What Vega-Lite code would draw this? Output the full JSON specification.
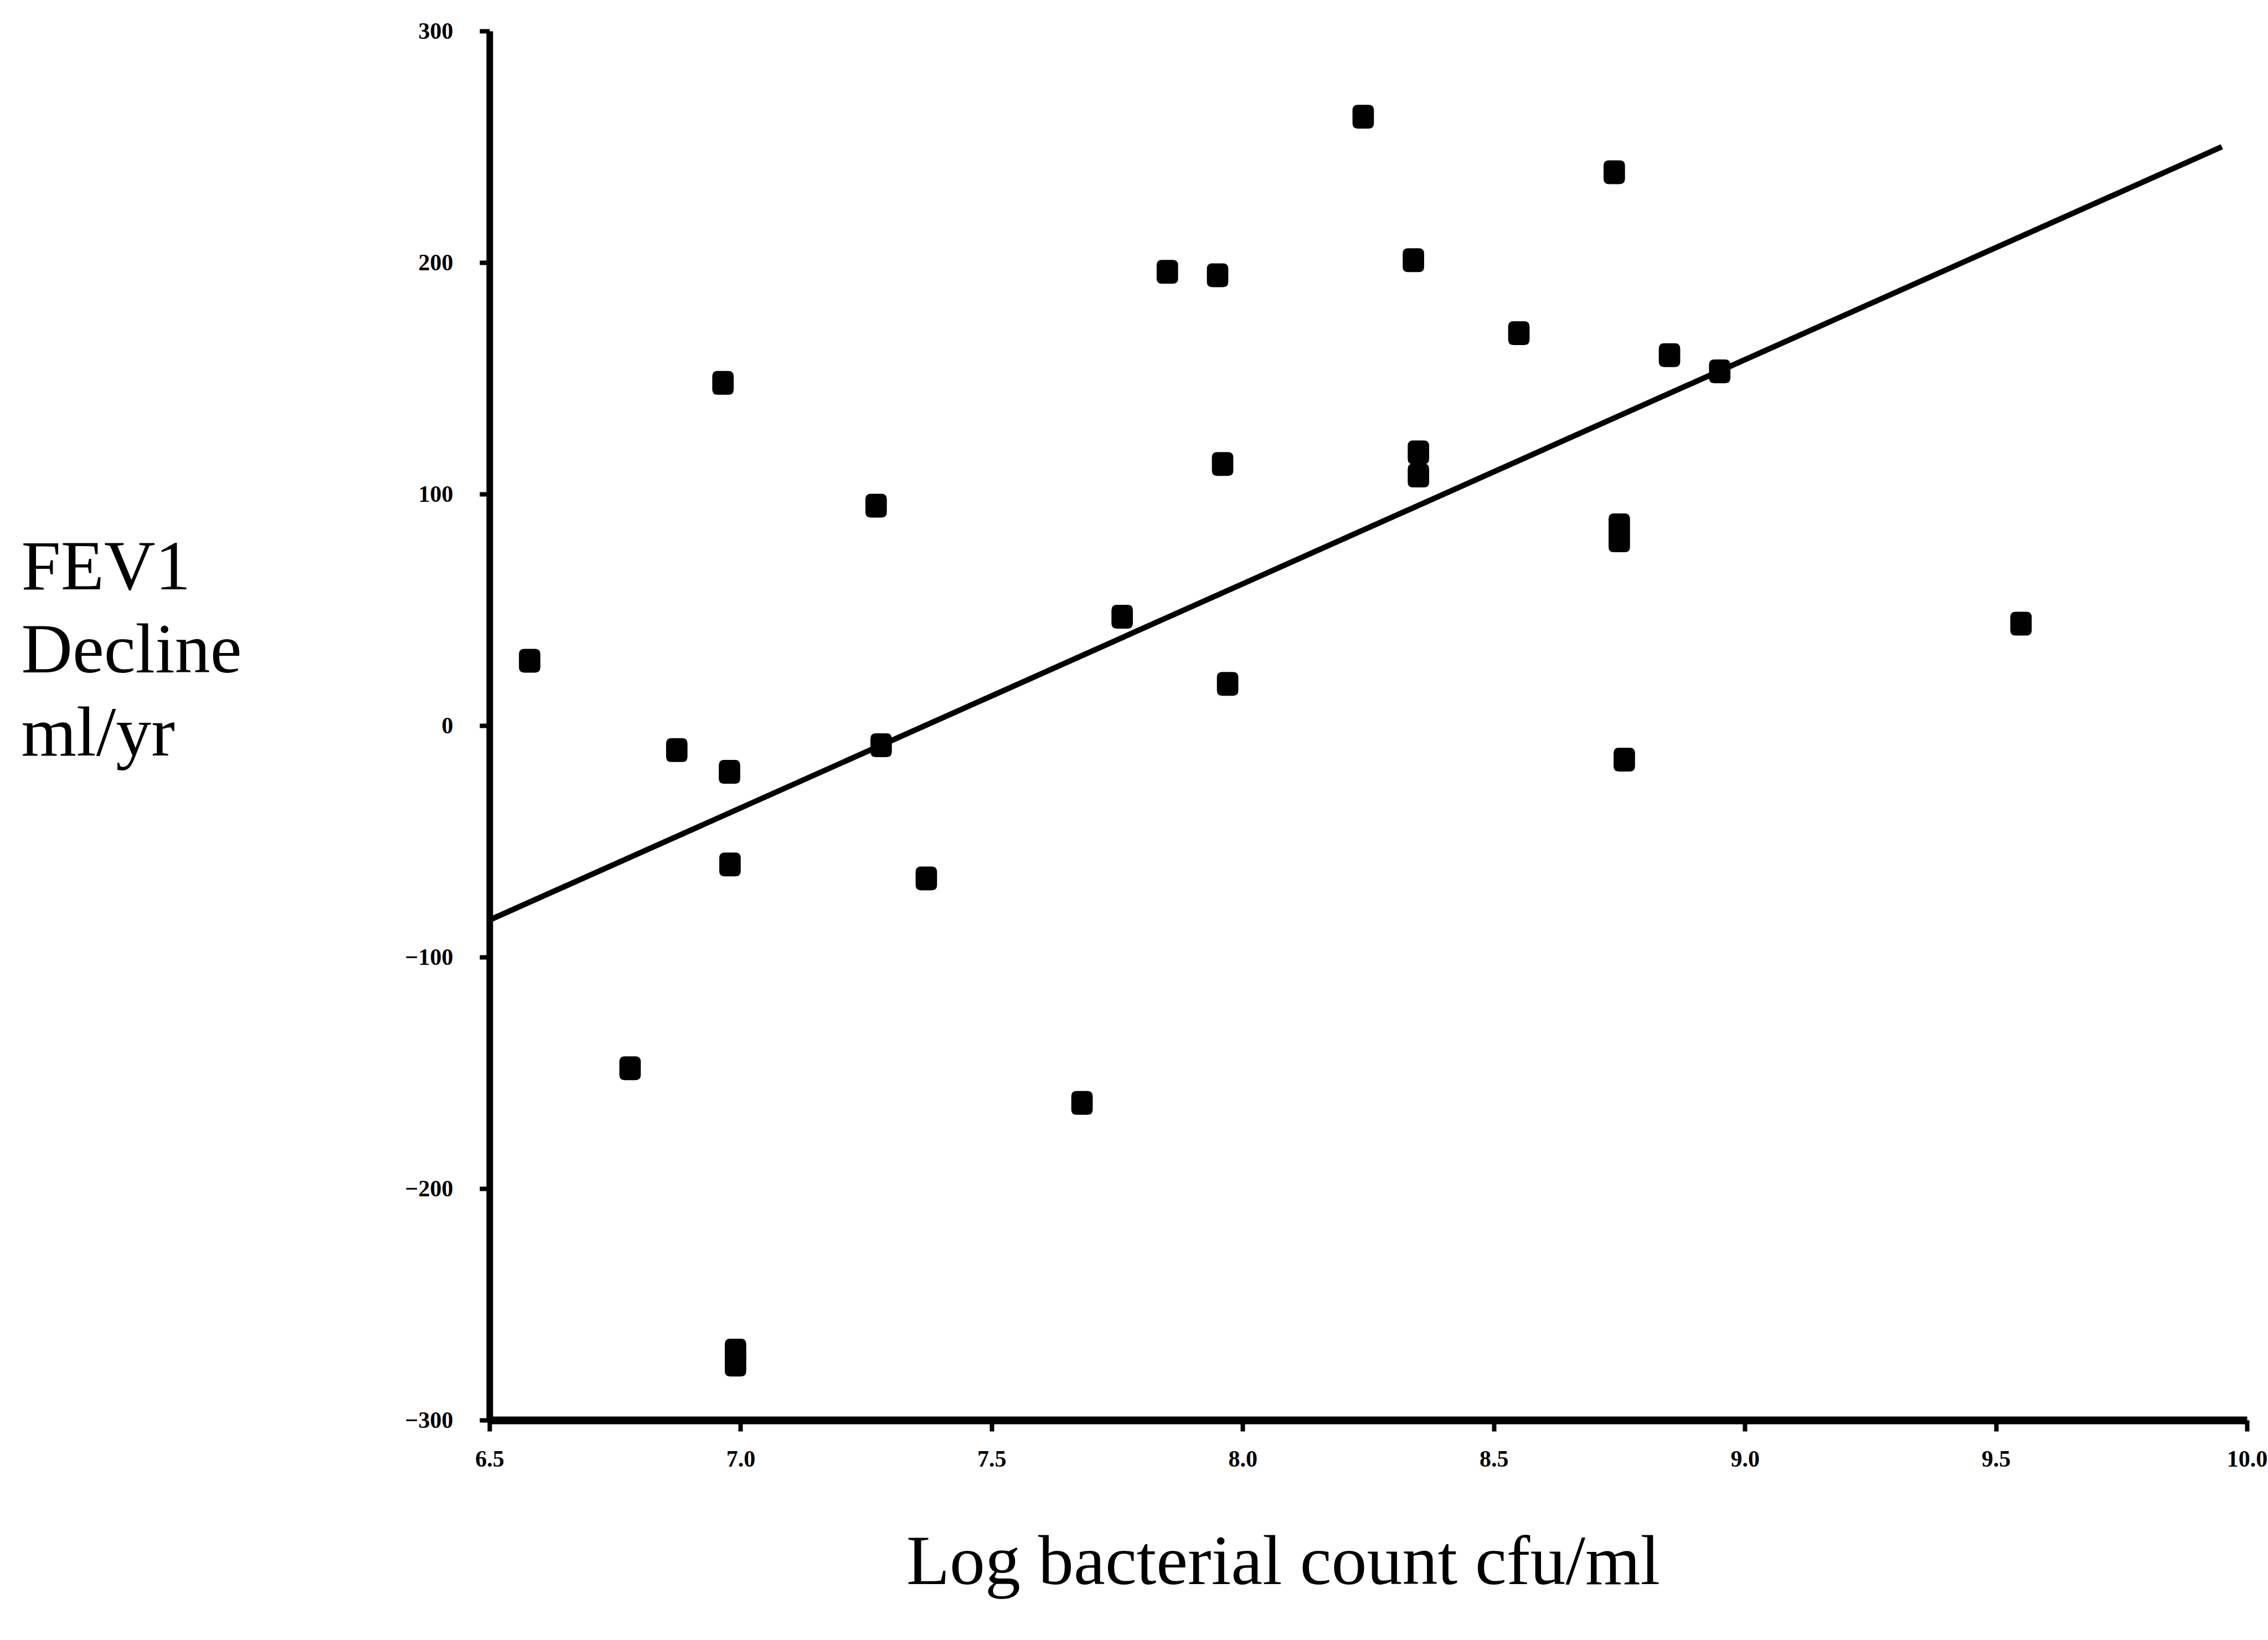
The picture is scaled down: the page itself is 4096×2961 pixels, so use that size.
{
  "$schema": "https://vega.github.io/schema/vega-lite/v6.json",
  "width": 3174,
  "height": 2508,
  "autosize": "none",
  "padding": {"left": 884, "top": 56, "right": 38, "bottom": 397},
  "background": "white",
  "config": {"view": {"stroke": null}, "axis": {"grid": false}},
  "datasets": {
    "points": [
      {"log_count": 6.58, "fev1_decline": 28},
      {"log_count": 6.78, "fev1_decline": -148},
      {"log_count": 6.873, "fev1_decline": -10.6},
      {"log_count": 6.965, "fev1_decline": 148},
      {"log_count": 6.978, "fev1_decline": -20},
      {"log_count": 6.979, "fev1_decline": -60},
      {"log_count": 6.99, "fev1_decline": -270},
      {"log_count": 6.99, "fev1_decline": -276},
      {"log_count": 7.27, "fev1_decline": 95},
      {"log_count": 7.28, "fev1_decline": -8.5},
      {"log_count": 7.37, "fev1_decline": -66},
      {"log_count": 7.68, "fev1_decline": -163},
      {"log_count": 7.76, "fev1_decline": 47},
      {"log_count": 7.85, "fev1_decline": 196},
      {"log_count": 7.95, "fev1_decline": 194.5},
      {"log_count": 7.96, "fev1_decline": 113},
      {"log_count": 7.97, "fev1_decline": 18},
      {"log_count": 8.24, "fev1_decline": 263},
      {"log_count": 8.34, "fev1_decline": 201},
      {"log_count": 8.35, "fev1_decline": 118},
      {"log_count": 8.35, "fev1_decline": 108},
      {"log_count": 8.55, "fev1_decline": 169.5},
      {"log_count": 8.74, "fev1_decline": 239},
      {"log_count": 8.75, "fev1_decline": 86.5},
      {"log_count": 8.75, "fev1_decline": 80},
      {"log_count": 8.76, "fev1_decline": -14.7},
      {"log_count": 8.85, "fev1_decline": 160},
      {"log_count": 8.95, "fev1_decline": 153},
      {"log_count": 9.55, "fev1_decline": 44}
    ],
    "fit": [
      {"log_count": 6.5, "fev1_decline": -84},
      {"log_count": 9.95, "fev1_decline": 250}
    ]
  },
  "layer": [
    {
      "data": {"name": "fit"},
      "mark": {"type": "line", "color": "black", "strokeWidth": 10},
      "encoding": {
        "x": {
          "field": "log_count",
          "type": "quantitative",
          "scale": {"domain": [6.5, 10], "nice": false, "zero": false},
          "axis": {
            "values": [6.5, 7, 7.5, 8, 8.5, 9, 9.5, 10],
            "format": ".1f",
            "labelFont": "Liberation Serif",
            "labelFontWeight": "bold",
            "labelFontSize": 42,
            "labelColor": "black",
            "labelFlush": false,
            "labelOverlap": false,
            "labelPadding": 30,
            "tickSize": 20,
            "tickWidth": 8,
            "tickColor": "black",
            "domainColor": "black",
            "domainWidth": 14,
            "title": "Log bacterial count cfu/ml",
            "titleFont": "Liberation Serif",
            "titleFontSize": 128,
            "titleFontWeight": "normal",
            "titleColor": "black",
            "titleX": 1433,
            "titleY": 295,
            "titleAlign": "center",
            "titleBaseline": "alphabetic"
          }
        },
        "y": {
          "field": "fev1_decline",
          "type": "quantitative",
          "scale": {"domain": [-300, 300], "nice": false, "zero": false},
          "axis": {
            "values": [-300, -200, -100, 0, 100, 200, 300],
            "labelFont": "Liberation Serif",
            "labelFontWeight": "bold",
            "labelFontSize": 42,
            "labelColor": "black",
            "labelFlush": false,
            "labelOverlap": false,
            "labelPadding": 48,
            "tickSize": 18,
            "tickWidth": 8,
            "tickColor": "black",
            "domainColor": "black",
            "domainWidth": 12,
            "title": ["FEV1", "Decline", "ml/yr"],
            "titleFont": "Liberation Serif",
            "titleFontSize": 128,
            "titleFontWeight": "normal",
            "titleColor": "black",
            "titleAngle": 0,
            "titleAlign": "left",
            "titleBaseline": "alphabetic",
            "titleLineHeight": 150,
            "titleX": -846,
            "titleY": 1007
          }
        }
      }
    },
    {
      "data": {"name": "points"},
      "mark": {
        "type": "point",
        "filled": true,
        "color": "black",
        "opacity": 1,
        "size": 1849,
        "shape": "M -0.45,-1 L 0.45,-1 Q 0.9,-1 0.9,-0.55 L 0.9,0.55 Q 0.9,1 0.45,1 L -0.45,1 Q -0.9,1 -0.9,0.55 L -0.9,-0.55 Q -0.9,-1 -0.45,-1 Z"
      },
      "encoding": {
        "x": {"field": "log_count", "type": "quantitative"},
        "y": {"field": "fev1_decline", "type": "quantitative"}
      }
    }
  ]
}
